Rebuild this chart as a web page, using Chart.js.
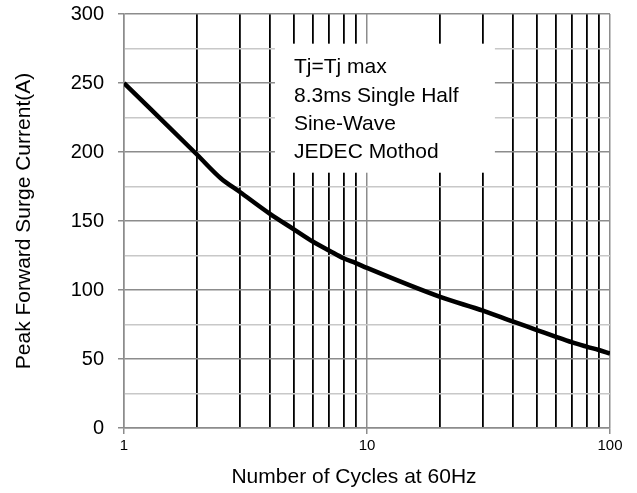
<!DOCTYPE html>
<html>
<head>
<meta charset="utf-8">
<script src="https://cdn.jsdelivr.net/npm/chart.js@4"></script>
<style>
  html, body { margin: 0; padding: 0; background: #fff; }
  #wrap { width: 637px; height: 493px; }
</style>
</head>
<body>
<div id="wrap"><canvas id="surge" width="637" height="493"></canvas></div>
<script>
// curve
const cycles  = [1, 2, 2.5, 3, 4, 5, 6, 7, 8, 9, 10, 20, 30, 40, 50, 60, 70, 80, 90, 100];
const current = [250, 198, 181, 171, 155, 144, 135, 128.5, 123, 119.5, 116, 95, 85, 77, 71, 66, 62, 59, 56.5, 54];

// axis ticks
const xGrid   = [1, 2, 3, 4, 5, 6, 7, 8, 9, 10, 20, 30, 40, 50, 60, 70, 80, 90, 100];
const xLabels = [1, 10, 100];
const yLabels = [0, 50, 100, 150, 200, 250, 300];

// note box (data coords) and its text
const noteX = [4.18, 33.6];
const noteY = [185, 278.5];
const noteLines = ['Tj=Tj max', '8.3ms Single Half', 'Sine-Wave', 'JEDEC Mothod'];

const FONT = "Arial, 'Liberation Sans', sans-serif";

const notePlugin = {
  id: 'note',
  beforeDatasetsDraw(chart) {
    const { ctx, scales: { x, y } } = chart;
    const l = x.getPixelForValue(noteX[0]), r = x.getPixelForValue(noteX[1]);
    const t = y.getPixelForValue(noteY[1]), b = y.getPixelForValue(noteY[0]);
    ctx.save();
    ctx.fillStyle = '#fff';
    ctx.fillRect(l, t, r - l, b - t);
    ctx.fillStyle = '#000';
    ctx.font = '21px ' + FONT;
    ctx.textBaseline = 'middle';
    ctx.textAlign = 'left';
    noteLines.forEach((s, i) => ctx.fillText(s, l + 19, t + 24 + i * 28.3));
    ctx.restore();
  },
  afterDraw(chart) {
    const { ctx, chartArea: a } = chart;
    ctx.save();
    ctx.fillStyle = '#000';
    ctx.font = '21px ' + FONT;
    ctx.textAlign = 'center';
    ctx.textBaseline = 'middle';
    ctx.fillText('Number of Cycles at 60Hz', (a.left + a.right) / 2 - 13, 477);
    ctx.translate(24, (a.top + a.bottom) / 2);
    ctx.rotate(-Math.PI / 2);
    ctx.fillText('Peak Forward Surge Current(A)', 0, 0);
    ctx.restore();
  }
};

new Chart(document.getElementById('surge'), {
  type: 'line',
  data: {
    datasets: [{
      data: cycles.map((c, i) => ({ x: c, y: current[i] })),
      borderColor: '#000',
      borderWidth: 4.5,
      pointRadius: 0,
      cubicInterpolationMode: 'monotone',
      fill: false
    }]
  },
  options: {
    responsive: false,
    animation: false,
    layout: { padding: { top: 14, right: 27, left: 0, bottom: 0 } },
    plugins: { legend: { display: false }, tooltip: { enabled: false } },
    scales: {
      x: {
        type: 'logarithmic',
        min: 1, max: 100,
        afterBuildTicks: s => { s.ticks = xGrid.map(v => ({ value: v })); },
        afterFit: s => { s.height = 65; s.paddingLeft = 0; s.paddingRight = 0; },
        ticks: {
          autoSkip: false, maxRotation: 0, padding: 3,
          color: '#000', font: { family: FONT, size: 15 },
          callback: v => xLabels.includes(v) ? String(v) : ''
        },
        grid: {
          color: c => xLabels.includes(c.tick.value) ? '#8c8c8c' : '#000',
          lineWidth: c => xLabels.includes(c.tick.value) ? 1.5 : 1.8,
          tickColor: c => xLabels.includes(c.tick.value) ? '#8c8c8c' : 'rgba(0,0,0,0)',
          tickLength: 6
        },
        border: { color: '#8c8c8c', width: 1.5 }
      },
      y: {
        min: 0, max: 300,
        afterFit: s => { s.width = 124; s.paddingTop = 0; s.paddingBottom = 0; },
        ticks: {
          stepSize: 25, padding: 14,
          color: '#000', font: { family: FONT, size: 20 },
          callback: v => yLabels.includes(v) ? String(v) : ''
        },
        grid: {
          color: c => yLabels.includes(c.tick.value) ? '#8c8c8c' : '#c8c8c8',
          lineWidth: 1.5,
          tickColor: c => yLabels.includes(c.tick.value) ? '#8c8c8c' : 'rgba(0,0,0,0)',
          tickLength: 6
        },
        border: { color: '#8c8c8c', width: 1.5 }
      }
    }
  },
  plugins: [notePlugin]
});
</script>
</body>
</html>
